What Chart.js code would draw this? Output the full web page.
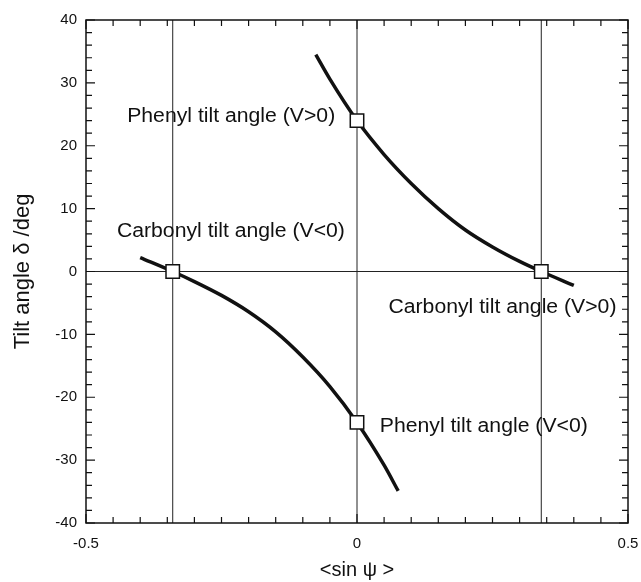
<!DOCTYPE html>
<html>
<head>
<meta charset="utf-8">
<script src="https://cdn.jsdelivr.net/npm/chart.js@4"></script>
<style>
    html, body { margin: 0; padding: 0; background: #fff; }
    canvas { display: block; }
</style>
</head>
<body>
<canvas id="chart" width="641" height="582"></canvas>
<script>
// branch for V>0 (phenyl at sin=0, carbonyl crossing zero on the right)
const vPosSin = [-0.076, -0.05, 0, 0.05, 0.1, 0.15, 0.2, 0.25, 0.3, 0.34, 0.4]
const vPosTilt = [34.5, 30.6, 24, 18.6, 14.0, 10.0, 6.6, 3.9, 1.6, 0, -2.2]
// branch for V<0
const vNegSin = [-0.4, -0.34, -0.3, -0.25, -0.2, -0.15, -0.1, -0.05, 0, 0.05, 0.076]
const vNegTilt = [2.2, 0, -1.6, -3.8, -6.4, -9.6, -13.6, -18.3, -24, -30.8, -34.9]
// open squares
const markerSin = [-0.34, 0, 0, 0.34]
const markerTilt = [0, 24, -24, 0]
// thin reference lines
const refSin = [-0.34, 0, 0.34]
const refTilt = [0]

const notes = [
    { text: 'Phenyl tilt angle (V>0)', x: -0.424, y: 23.8 },
    { text: 'Carbonyl tilt angle (V<0)', x: -0.443, y: 5.5 },
    { text: 'Carbonyl tilt angle (V>0)', x: 0.058, y: -6.6 },
    { text: 'Phenyl tilt angle (V<0)', x: 0.042, y: -25.5 }
]

const FONT = "'Liberation Sans', Arial, sans-serif"
const INK = '#111'

const toPoints = (xs, ys) => xs.map((x, i) => ({ x: x, y: ys[i] }))

const refDatasets = [
    ...refSin.map(s => ({
        data: [{ x: s, y: -40 }, { x: s, y: 40 }],
        borderColor: '#222', borderWidth: 1, pointRadius: 0, order: 3, showLine: true
    })),
    ...refTilt.map(t => ({
        data: [{ x: -0.5, y: t }, { x: 0.5, y: t }],
        borderColor: '#222', borderWidth: 1, pointRadius: 0, order: 3, showLine: true
    }))
]

// frame, inward ticks on all four sides and the text notes
const frameAndNotes = {
    id: 'frameAndNotes',
    afterDatasetsDraw(chart) {
        const { ctx, chartArea, scales } = chart
        const { left, right, top, bottom } = chartArea
        const x = scales.x, y = scales.y
        ctx.save()
        ctx.strokeStyle = INK
        ctx.lineWidth = 1.2
        ctx.beginPath()
        for (let i = -10; i <= 10; i++) {
            const px = x.getPixelForValue(i * 0.05)
            const len = i % 10 === 0 ? 9 : 6
            ctx.moveTo(px, bottom); ctx.lineTo(px, bottom - len)
            ctx.moveTo(px, top); ctx.lineTo(px, top + len)
        }
        for (let i = -20; i <= 20; i++) {
            const py = y.getPixelForValue(i * 2)
            const len = i % 5 === 0 ? 9 : 6
            ctx.moveTo(left, py); ctx.lineTo(left + len, py)
            ctx.moveTo(right, py); ctx.lineTo(right - len, py)
        }
        ctx.stroke()
        ctx.lineWidth = 1.5
        ctx.strokeRect(left, top, right - left, bottom - top)

        ctx.fillStyle = INK
        ctx.font = '20px ' + FONT
        ctx.textAlign = 'left'
        ctx.textBaseline = 'alphabetic'
        notes.forEach(n => {
            ctx.save()
            ctx.translate(x.getPixelForValue(n.x), y.getPixelForValue(n.y))
            ctx.scale(1.06, 1)
            ctx.fillText(n.text, 0, 0)
            ctx.restore()
        })
        ctx.restore()
    }
}

new Chart(document.getElementById('chart'), {
    type: 'scatter',
    data: {
        datasets: [
            {
                data: toPoints(markerSin, markerTilt),
                pointStyle: 'rect', pointRadius: 9.5, pointBorderWidth: 1.5,
                pointBackgroundColor: '#fff', pointBorderColor: INK,
                showLine: false, order: 0
            },
            {
                data: toPoints(vPosSin, vPosTilt),
                showLine: true, borderColor: INK, borderWidth: 3.5,
                pointRadius: 0, cubicInterpolationMode: 'monotone', order: 1
            },
            {
                data: toPoints(vNegSin, vNegTilt),
                showLine: true, borderColor: INK, borderWidth: 3.5,
                pointRadius: 0, cubicInterpolationMode: 'monotone', order: 1
            },
            ...refDatasets
        ]
    },
    options: {
        responsive: false,
        animation: false,
        layout: { padding: { top: 20, right: 13, left: 0, bottom: 0 } },
        plugins: {
            legend: { display: false },
            tooltip: { enabled: false }
        },
        scales: {
            x: {
                type: 'linear', min: -0.5, max: 0.5,
                grid: { display: false, drawTicks: false }, border: { display: false },
                ticks: { stepSize: 0.5, color: INK, padding: 12, font: { family: FONT, size: 15 } },
                title: { display: true, text: '<sin \u03C8 >', color: INK, padding: { top: 0, bottom: 0 }, font: { family: FONT, size: 20 } },
                afterFit: s => { s.height = 59; s.paddingLeft = 0; s.paddingRight = 0 }
            },
            y: {
                type: 'linear', min: -40, max: 40,
                grid: { display: false, drawTicks: false }, border: { display: false },
                ticks: { stepSize: 10, color: INK, padding: 9, font: { family: FONT, size: 15 } },
                title: { display: true, text: 'Tilt angle \u03B4 /deg', color: INK, padding: { top: 10, bottom: 0 }, font: { family: FONT, size: 22 } },
                afterFit: s => { s.width = 86; s.paddingTop = 0; s.paddingBottom = 0 }
            }
        }
    },
    plugins: [frameAndNotes]
})
</script>
</body>
</html>
